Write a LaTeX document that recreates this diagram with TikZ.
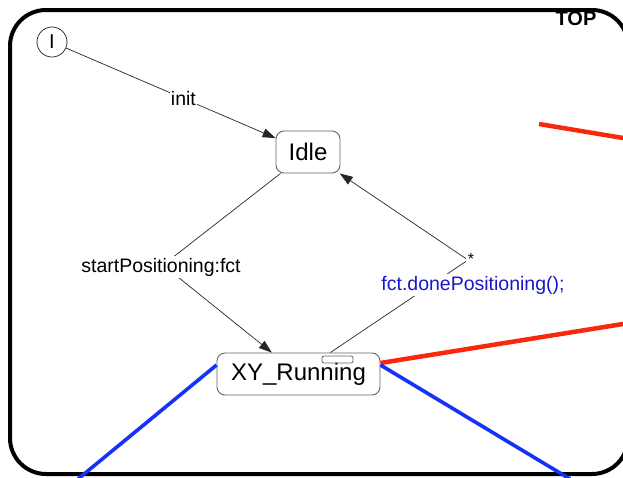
\documentclass[tikz,border=0pt]{standalone}
\usepackage{fontspec}
\setmainfont{Liberation Sans}
\usetikzlibrary{arrows.meta}
\definecolor{labelblue}{RGB}{24,24,200}
\definecolor{linkred}{RGB}{250,40,10}
\definecolor{linkblue}{RGB}{20,50,250}
\definecolor{stateedge}{RGB}{100,100,100}
\tikzset{
  statebox/.style={draw=stateedge, line width=0.9pt, rounded corners=8pt, fill=white,
    minimum height=42pt, inner sep=0pt, font=\fontsize{24}{26}\selectfont},
  initstate/.style={draw=black!80, line width=0.8pt, circle, minimum size=30pt, inner sep=0pt,
    font=\fontsize{20}{22}\selectfont},
  trans/.style={draw=black!85, line width=0.7pt},
  tip/.style={-{Triangle[length=13pt,width=9pt]}},
  translabel/.style={fill=white, inner sep=2pt, font=\fontsize{19.5}{21}\selectfont},
  redlink/.style={draw=linkred, line width=4.5pt},
  bluelink/.style={draw=linkblue, line width=3.6pt},
}
\begin{document}
\begin{tikzpicture}[x=1pt,y=-1pt]
\useasboundingbox (0,0) rectangle (623,477);
\begin{scope}
\clip (0,0) rectangle (623,477);
% enclosing TOP state
\draw[line width=4pt, rounded corners=36pt] (10,10) rectangle (628,474);
\node[font=\bfseries\fontsize{20}{22}\selectfont, inner sep=0pt] (top) at (576,19) {TOP};

% states
\node[initstate] (init) at (52,42) {I};
\node[statebox, minimum width=64pt] (idle) at (308,152) {Idle};
\node[statebox, minimum width=163pt] (run) at (298.5,374) {XY\_Running};
\node[draw=stateedge, line width=0.8pt, rounded corners=2pt, minimum width=31pt,
  minimum height=7pt, inner sep=0pt] (sub) at (337.5,359.5) {};

% links leaving the view
\coordinate (r1a) at (539,124);
\coordinate (r1b) at (626,138.5);
\coordinate (r2) at (626,323.5);
\coordinate (b1) at (78,479);
\coordinate (b2) at (570,479);
\draw[redlink] (r1a) -- (r1b);
\draw[redlink] (run.east |- 0,363) -- (r2);
\draw[bluelink] (run.west |- 0,365) -- (b1);
\draw[bluelink] (run.east |- 0,365) -- (b2);
\end{scope}

% transitions
\draw[trans, tip] (init) -- node[translabel, inner sep=1pt, pos=0.56] {init} (idle);

\coordinate (bendA) at (163,265);
\draw[trans, tip] (idle) -- (bendA) -- (run);
\node[translabel] at (161,267) {startPositioning:fct};

\coordinate (bendB) at (468,260);
\draw[trans, tip] (run) -- (bendB) -- (idle);
\node[translabel, text=labelblue] at (473,285) {fct.donePositioning();};
\node[fill=white, inner sep=1.5pt, font=\fontsize{16}{17}\selectfont] at (471,259) {*};
\end{tikzpicture}
\end{document}
